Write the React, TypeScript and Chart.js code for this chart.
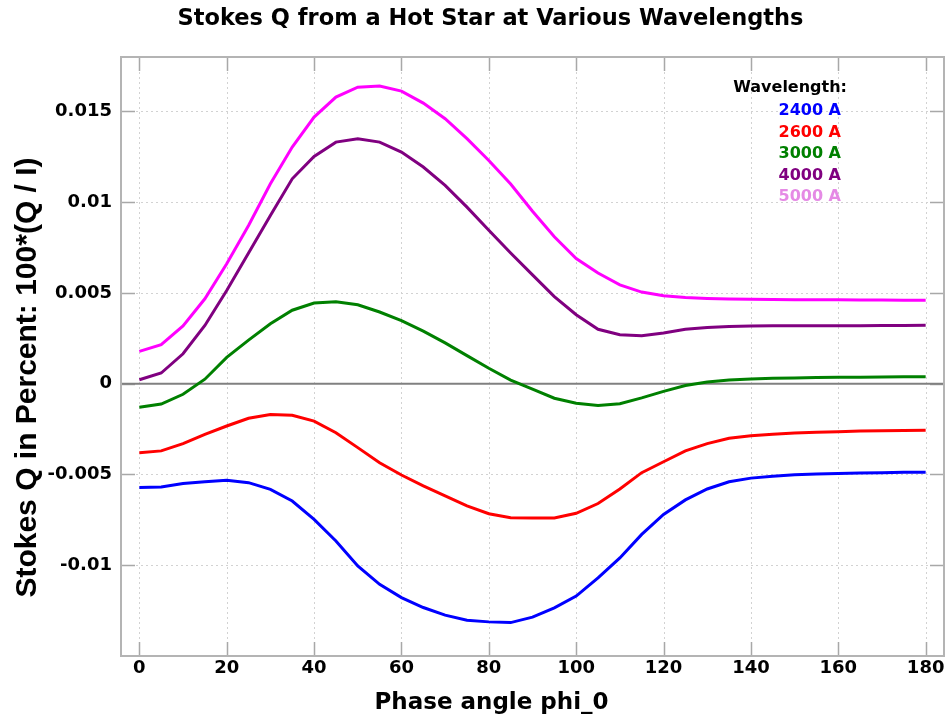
import React, { useEffect, useRef } from 'react';
import { Chart, registerables } from 'chart.js';

Chart.register(...registerables);

const TITLE = 'Stokes Q from a Hot Star at Various Wavelengths';
const X_TITLE = 'Phase angle phi_0';
const Y_TITLE = 'Stokes Q in Percent: 100*(Q / I)';
const LEGEND_TITLE = 'Wavelength:';

const phi = [0, 5, 10, 15, 20, 25, 30, 35, 40, 45, 50, 55, 60, 65, 70, 75, 80, 85, 90, 95, 100, 105, 110, 115, 120, 125, 130, 135, 140, 145, 150, 155, 160, 165, 170, 175, 180];

const seriesLabels = ['2400 A', '2600 A', '3000 A', '4000 A', '5000 A'];

const q2400 = [-0.00572, -0.00569, -0.0055, -0.0054, -0.00532, -0.00545, -0.00582, -0.00646, -0.00747, -0.00866, -0.01004, -0.01105, -0.01178, -0.01233, -0.01275, -0.01303, -0.01312, -0.01316, -0.01286, -0.01235, -0.0117, -0.0107, -0.0096, -0.0083, -0.0072, -0.0064, -0.0058, -0.0054, -0.0052, -0.0051, -0.00502, -0.00498, -0.00495, -0.00492, -0.0049, -0.00488, -0.00487];
const q2600 = [-0.0038, -0.0037, -0.0033, -0.00279, -0.00233, -0.0019, -0.00169, -0.00174, -0.00206, -0.0027, -0.00352, -0.00435, -0.00503, -0.00563, -0.00618, -0.00673, -0.00716, -0.00738, -0.0074, -0.0074, -0.00714, -0.0066, -0.0058, -0.0049, -0.0043, -0.0037, -0.0033, -0.003, -0.00286, -0.00278, -0.00271, -0.00267, -0.00264, -0.00261, -0.00259, -0.00257, -0.00256];
const q3000 = [-0.0013, -0.00112, -0.00058, 0.00025, 0.00145, 0.0024, 0.0033, 0.00405, 0.00445, 0.00452, 0.00435, 0.00395, 0.00348, 0.0029, 0.00225, 0.00155, 0.00085, 0.0002, -0.0003, -0.0008, -0.00108, -0.0012, -0.0011, -0.00078, -0.00042, -0.0001, 0.0001, 0.0002, 0.00026, 0.0003, 0.00032, 0.00034, 0.00035, 0.00036, 0.00037, 0.00038, 0.00039];
const q4000 = [0.00022, 0.00059, 0.00165, 0.00321, 0.00514, 0.0072, 0.00927, 0.01129, 0.01252, 0.01331, 0.0135, 0.01331, 0.01276, 0.01194, 0.01093, 0.00973, 0.00845, 0.0072, 0.006, 0.0048, 0.0038, 0.003, 0.0027, 0.00265, 0.0028, 0.003, 0.0031, 0.00315, 0.00318, 0.0032, 0.0032, 0.0032, 0.0032, 0.0032, 0.00321, 0.00321, 0.00322];
const q5000 = [0.00178, 0.00215, 0.00318, 0.00468, 0.00661, 0.00872, 0.01102, 0.01304, 0.01469, 0.01579, 0.01634, 0.0164, 0.01612, 0.01546, 0.0146, 0.0135, 0.0123, 0.011, 0.0095, 0.0081, 0.0069, 0.0061, 0.00545, 0.00505, 0.00485, 0.00475, 0.0047, 0.00467, 0.00465, 0.00464, 0.00463, 0.00462, 0.00462, 0.00461, 0.00461, 0.0046, 0.0046];

const seriesValues = [q2400, q2600, q3000, q4000, q5000];
const lineColors = ['#0000ff', '#ff0000', '#008000', '#800080', '#ff00ff'];
const legendColors = ['#0000ff', '#ff0000', '#008000', '#800080', '#e58ae5'];

const xTicks = [0, 20, 40, 60, 80, 100, 120, 140, 160, 180];
const xTickLabels = ['0', '20', '40', '60', '80', '100', '120', '140', '160', '180'];
const yTicks = [-0.01, -0.005, 0, 0.005, 0.01, 0.015];
const yTickLabels = ['-0.01', '-0.005', '0', '0.005', '0.01', '0.015'];

const X_MIN = -4.2;
const X_MAX = 184.2;
const Y_MIN = -0.015;
const Y_MAX = 0.018;

const DEJAVU = '"DejaVu Sans", sans-serif';
const LIBSANS = '"Liberation Sans", Arial, sans-serif';

const framePlugin = {
  id: 'frame',
  beforeDatasetsDraw(chart: any) {
    const { ctx, chartArea, scales } = chart;
    const { left, right, top, bottom } = chartArea;
    const xs = scales.x;
    const ys = scales.y;
    ctx.save();
    // dotted grid
    ctx.strokeStyle = '#d2d2d2';
    ctx.lineWidth = 1;
    ctx.setLineDash([2, 3]);
    xs.ticks.forEach((t: any) => {
      const px = Math.round(xs.getPixelForValue(t.value)) + 0.5;
      ctx.beginPath();
      ctx.moveTo(px, top);
      ctx.lineTo(px, bottom);
      ctx.stroke();
    });
    ys.ticks.forEach((t: any) => {
      if (t.value === 0) return;
      const py = Math.round(ys.getPixelForValue(t.value)) + 0.5;
      ctx.beginPath();
      ctx.moveTo(left, py);
      ctx.lineTo(right, py);
      ctx.stroke();
    });
    ctx.setLineDash([]);
    // inward tick marks
    ctx.strokeStyle = '#a8a8a8';
    ctx.lineWidth = 1.5;
    const tl = 14;
    xs.ticks.forEach((t: any) => {
      const px = Math.round(xs.getPixelForValue(t.value)) + 0.5;
      ctx.beginPath();
      ctx.moveTo(px, bottom);
      ctx.lineTo(px, bottom - tl);
      ctx.moveTo(px, top);
      ctx.lineTo(px, top + tl);
      ctx.stroke();
    });
    ys.ticks.forEach((t: any) => {
      const py = Math.round(ys.getPixelForValue(t.value)) + 0.5;
      ctx.beginPath();
      ctx.moveTo(left, py);
      ctx.lineTo(left + tl, py);
      ctx.moveTo(right, py);
      ctx.lineTo(right - tl, py);
      ctx.stroke();
    });
    // zero line
    const y0 = ys.getPixelForValue(0);
    ctx.strokeStyle = '#808080';
    ctx.lineWidth = 2;
    ctx.beginPath();
    ctx.moveTo(left, y0);
    ctx.lineTo(right, y0);
    ctx.stroke();
    // border
    ctx.strokeStyle = '#b4b4b4';
    ctx.lineWidth = 2;
    ctx.strokeRect(left, top, right - left, bottom - top);
    ctx.restore();
  },
  afterDraw(chart: any) {
    const { ctx } = chart;
    ctx.save();
    ctx.fillStyle = '#000';
    // main title
    ctx.font = `bold 22.5px ${DEJAVU}`;
    ctx.textAlign = 'center';
    ctx.textBaseline = 'alphabetic';
    ctx.fillText(TITLE, 490.5, 25);
    // x title
    ctx.font = `bold 23px ${DEJAVU}`;
    ctx.fillText(X_TITLE, 491.5, 709);
    // y title
    ctx.save();
    ctx.translate(36, 377.5);
    ctx.rotate(-Math.PI / 2);
    ctx.font = `bold 30px ${LIBSANS}`;
    ctx.textAlign = 'center';
    ctx.fillText(Y_TITLE, 0, 0);
    ctx.restore();
    // legend
    ctx.textAlign = 'right';
    ctx.font = `bold 16px ${DEJAVU}`;
    ctx.fillStyle = '#000';
    ctx.fillText(LEGEND_TITLE, 847, 92);
    chart.data.datasets.forEach((ds: any, i: number) => {
      ctx.fillStyle = legendColors[i];
      ctx.fillText(ds.label, 841, 115 + i * 21.5);
    });
    ctx.restore();
  },
};

export default function App() {
  const canvasRef = useRef<HTMLCanvasElement | null>(null);

  useEffect(() => {
    const canvas = canvasRef.current;
    if (!canvas) return;
    const datasets = seriesValues.map((vals, i) => ({
      label: seriesLabels[i],
      data: phi.map((p, j) => ({ x: p, y: vals[j] })),
      borderColor: lineColors[i],
      backgroundColor: lineColors[i],
      borderWidth: 3,
      pointRadius: 0,
      tension: 0,
      fill: false,
    }));
    const chart = new Chart(canvas, {
      type: 'line',
      data: { datasets },
      options: {
        responsive: false,
        animation: false,
        devicePixelRatio: 1,
        layout: { padding: { top: 57, right: 3, left: 0, bottom: 0 } },
        plugins: {
          legend: { display: false },
          title: { display: false },
          tooltip: { enabled: false },
        },
        scales: {
          x: {
            type: 'linear',
            min: X_MIN,
            max: X_MAX,
            afterBuildTicks: (s: any) => {
              s.ticks = xTicks.map((v) => ({ value: v }));
            },
            afterFit: (s: any) => {
              s.height = 63;
            },
            grid: { display: false, drawTicks: false },
            border: { display: false },
            ticks: {
              autoSkip: false,
              maxRotation: 0,
              padding: 0,
              color: '#000',
              font: { family: DEJAVU, size: 18, weight: 'bold', lineHeight: 1.35 },
              callback: (_v: any, i: number) => xTickLabels[i],
            },
          },
          y: {
            type: 'linear',
            min: Y_MIN,
            max: Y_MAX,
            afterBuildTicks: (s: any) => {
              s.ticks = yTicks.map((v) => ({ value: v }));
            },
            afterFit: (s: any) => {
              s.width = 121;
            },
            grid: { display: false, drawTicks: false },
            border: { display: false },
            ticks: {
              padding: 9,
              color: '#000',
              font: { family: DEJAVU, size: 18, weight: 'bold' },
              callback: (_v: any, i: number) => yTickLabels[i],
            },
          },
        },
      },
      plugins: [framePlugin],
    } as any);
    return () => chart.destroy();
  }, []);

  return (
    <div style={{ position: 'absolute', left: 0, top: 0, width: 947, height: 719, background: '#fff' }}>
      <canvas ref={canvasRef} width={947} height={719} style={{ display: 'block', width: 947, height: 719 }} />
    </div>
  );
}
